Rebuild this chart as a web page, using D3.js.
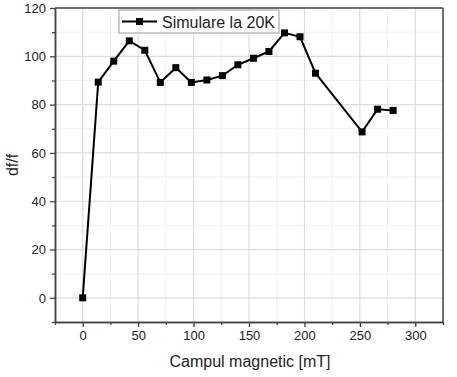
<!DOCTYPE html>
<html>
<head>
<meta charset="utf-8">
<script src="https://cdn.jsdelivr.net/npm/d3@7"></script>
<style>
  body { margin: 0; background: #fff; }
  svg { font-family: Arial, "Liberation Sans", sans-serif; }
</style>
</head>
<body>
<script>
// data
var fieldValues = [0, 14, 28, 42, 56, 70, 84, 98, 112, 126, 140, 154, 168, 182, 196, 210, 252, 266, 280];
var dfValues = [0, 89.3, 98, 106.4, 102.5, 89.2, 95.3, 89.2, 90.2, 92, 96.5, 99.2, 102, 109.7, 108.1, 93, 68.7, 78.1, 77.6];
var xTicks = [0, 50, 100, 150, 200, 250, 300];
var yTicks = [0, 20, 40, 60, 80, 100, 120];
var seriesName = 'Simulare la 20K';

var svgWidth = 457, svgHeight = 377;
var plotLeft = 55, plotRight = 443, plotTop = 8, plotBottom = 322;

var xScale = d3.scaleLinear().domain([-25, 325]).range([plotLeft, plotRight]);
var yScale = d3.scaleLinear().domain([-10, 120]).range([plotBottom, plotTop]);

var svg = d3.select('body')
    .append('svg')
    .attr('width', svgWidth)
    .attr('height', svgHeight);

// grid: minor first, then major
var xMinor = d3.range(-25, 326, 25).filter(d => xTicks.indexOf(d) < 0);
var yMinor = d3.range(-10, 121, 10).filter(d => yTicks.indexOf(d) < 0);

var grid = svg.append('g').attr('class', 'grid');
grid.selectAll('.vminor').data(xMinor).enter().append('line')
    .attr('x1', d => xScale(d)).attr('x2', d => xScale(d))
    .attr('y1', plotTop).attr('y2', plotBottom)
    .attr('stroke', '#efefef').attr('stroke-width', 1);
grid.selectAll('.hminor').data(yMinor).enter().append('line')
    .attr('y1', d => yScale(d)).attr('y2', d => yScale(d))
    .attr('x1', plotLeft).attr('x2', plotRight)
    .attr('stroke', '#efefef').attr('stroke-width', 1);
grid.selectAll('.vmajor').data(xTicks).enter().append('line')
    .attr('x1', d => xScale(d)).attr('x2', d => xScale(d))
    .attr('y1', plotTop).attr('y2', plotBottom)
    .attr('stroke', '#dcdcdc').attr('stroke-width', 1.2);
grid.selectAll('.hmajor').data(yTicks).enter().append('line')
    .attr('y1', d => yScale(d)).attr('y2', d => yScale(d))
    .attr('x1', plotLeft).attr('x2', plotRight)
    .attr('stroke', '#dcdcdc').attr('stroke-width', 1.2);

// axes
var xAxis = d3.axisBottom(xScale).tickValues(xTicks).tickSize(5).tickSizeOuter(0).tickPadding(4);
var yAxis = d3.axisLeft(yScale).tickValues(yTicks).tickSize(5).tickSizeOuter(0).tickPadding(4);
var xAxisMinor = d3.axisBottom(xScale).tickValues(xMinor).tickSize(3).tickSizeOuter(0).tickFormat('');
var yAxisMinor = d3.axisLeft(yScale).tickValues(yMinor).tickSize(3).tickSizeOuter(0).tickFormat('');

function styleAxis(g) {
    g.selectAll('path').attr('stroke', '#444').attr('stroke-width', 1.5);
    g.selectAll('line').attr('stroke', '#444').attr('stroke-width', 1.3);
    g.selectAll('text').attr('fill', '#222').style('font-size', '13px');
}

svg.append('g').attr('transform', `translate(0, ${plotBottom})`).call(xAxisMinor).call(styleAxis);
svg.append('g').attr('transform', `translate(${plotLeft}, 0)`).call(yAxisMinor).call(styleAxis);
svg.append('g').attr('class', 'x axis').attr('transform', `translate(0, ${plotBottom})`).call(xAxis).call(styleAxis);
svg.append('g').attr('class', 'y axis').attr('transform', `translate(${plotLeft}, 0)`).call(yAxis).call(styleAxis);

// top and right frame
svg.append('line').attr('x1', plotLeft).attr('x2', plotRight).attr('y1', plotTop).attr('y2', plotTop)
    .attr('stroke', '#444').attr('stroke-width', 1.5);
svg.append('line').attr('x1', plotRight).attr('x2', plotRight).attr('y1', plotTop).attr('y2', plotBottom)
    .attr('stroke', '#444').attr('stroke-width', 1.5);

// axis titles
svg.append('text')
    .attr('x', 250).attr('y', 367)
    .attr('text-anchor', 'middle')
    .attr('fill', '#222')
    .style('font-size', '16px')
    .text('Campul magnetic [mT]');

svg.append('text')
    .attr('transform', `translate(18, 165) rotate(-90)`)
    .attr('text-anchor', 'middle')
    .attr('fill', '#222')
    .style('font-size', '16px')
    .text('df/f');

// series
var points = fieldValues.map((d, i) => [d, dfValues[i]]);
var line = d3.line().x(d => xScale(d[0])).y(d => yScale(d[1]));

svg.append('path')
    .datum(points)
    .attr('d', line)
    .attr('fill', 'none')
    .attr('stroke', '#000')
    .attr('stroke-width', 2);

svg.append('g').selectAll('rect').data(points).enter().append('rect')
    .attr('x', d => xScale(d[0]) - 3.5)
    .attr('y', d => yScale(d[1]) - 3.5)
    .attr('width', 7).attr('height', 7)
    .attr('fill', '#000');

// legend
var legend = svg.append('g').attr('transform', 'translate(119, 10)');
legend.append('rect')
    .attr('width', 160).attr('height', 23)
    .attr('fill', '#fff')
    .attr('stroke', '#999').attr('stroke-width', 1);
legend.append('line')
    .attr('x1', 3).attr('x2', 38).attr('y1', 11.5).attr('y2', 11.5)
    .attr('stroke', '#000').attr('stroke-width', 2);
legend.append('rect')
    .attr('x', 17).attr('y', 8).attr('width', 7).attr('height', 7)
    .attr('fill', '#000');
legend.append('text')
    .attr('x', 43).attr('y', 17.5)
    .attr('fill', '#222')
    .style('font-size', '16px')
    .text(seriesName);
</script>
</body>
</html>
